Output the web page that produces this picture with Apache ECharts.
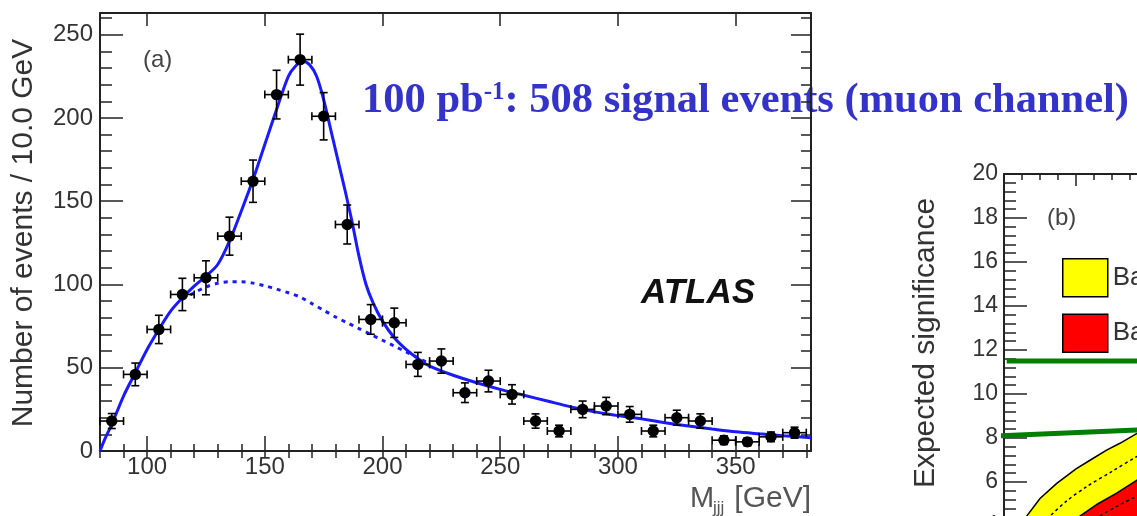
<!DOCTYPE html>
<html><head><meta charset="utf-8">
<script src="https://cdn.jsdelivr.net/npm/echarts@6/dist/echarts.min.js"></script>
<style>html,body{margin:0;padding:0;background:#fff}#c{width:1137px;height:516px}</style>
</head><body><div id="c"></div>
<script>
// ---------- panel (a): M_jjj distribution ----------
const binCenters = [85,95,105,115,125,135,145,155,165,175,185,195,205,215,225,235,245,255,265,275,285,295,305,315,325,335,345,355,365,375];
const eventCounts = [18,46,73,94,104,129,162,214,235,201,136,79,77,52,54,35,42,34,18,12,25,27,22,12,20,18,6.5,5.5,8.5,11];
const countErrors = [4.5,6.8,8.5,9.7,10.2,11.4,12.7,14.6,15.3,14.2,11.7,8.9,8.8,7.2,7.3,5.9,6.5,5.8,4.3,3.5,5.0,5.2,4.7,3.5,4.5,4.3,2.6,2.4,2.9,3.3];
const binWidth = 10;

const fitX = [80,82,85,90,95,100,105,110,115,120,125,130,135,140,145,150,155,160,163,166,169,172,175,178,181,184,187,190,193,196,200,205,210,215,220,230,240,250,260,270,280,290,300,310,320,330,340,350,360,370,382];
const fitY = [0,7,16,33,47,61,73,84,92,99,105,112,126,144,163,184,205,225,231,234,232,225,211,193,175,157,138,117,100,89,78,68,61,55.5,51,45.5,41,37,33.5,30,26.5,23.5,21.3,19.3,17,15,13.2,11.5,10.3,9.2,8];

const bkgX = [115,120,125,130,135,140,145,150,155,160,165,170,175,180,185,190,195,200,205,210,215,220];
const bkgY = [91,95,98.5,100.7,101.6,101.6,100.8,99.2,97.2,95,92.5,88.5,84.5,80.5,77,73.5,70,66.5,63,59.5,56,52.5];

const xMajorTicks = [100,150,200,250,300,350];
const xMinorTicks = [80,90,100,110,120,130,140,150,160,170,180,190,200,210,220,230,240,250,260,270,280,290,300,310,320,330,340,350,360,370,380];
const yMajorTicks = [0,50,100,150,200,250];
const yMinorTicks = [0,10,20,30,40,50,60,70,80,90,100,110,120,130,140,150,160,170,180,190,200,210,220,230,240,250,260];

// ---------- panel (b): expected significance (partly visible) ----------
const yellowUpper = [[0.3,3.0],[0.8,3.8],[1.26,4.45],[2.0,5.25],[2.93,5.94],[4.0,6.6],[4.96,7.08],[5.7,7.45],[6.44,7.76],[7.39,8.21],[8.5,8.7]];
const yellowMid = [[1.5,3.5],[2.56,4.45],[3.5,5.15],[4.59,5.79],[6.0,6.48],[7.37,7.15],[8.5,7.6]];
const redUpper = [[3.2,3.6],[4.22,4.45],[5.2,5.0],[6.26,5.49],[7.39,6.09],[8.5,6.6]];
const redMid = [[4.6,3.9],[5.33,4.45],[6.4,4.95],[7.39,5.36],[8.5,5.8]];
const redLower = [[5.5,3.0],[6.5,3.6],[7.39,4.3],[8.5,4.9]];
const greenUpper = [[0.15,11.5],[9,11.5]];
const greenLower = [[-0.61,8.09],[7.39,8.36],[9,8.41]];
const bandNames = ['Background \u00d7 1', 'Background \u00d7 2'];

const SANS = 'Liberation Sans';
const SERIF = 'Liberation Serif';
const AX = '#222';

function pairs(xs, ys){ return xs.map((x,i)=>[x, ys[i]]); }

function errorBarItem(params, api){
  const x = api.value(0), y = api.value(1), e = api.value(2);
  const c = api.coord([x, y]);
  const t = api.coord([x, y + e]);
  const b = api.coord([x, Math.max(0, y - e)]);
  const l = api.coord([x - binWidth/2, y]);
  const r = api.coord([x + binWidth/2, y]);
  const cap = 4;
  const st = {stroke:'#000', lineWidth:1.6};
  return {type:'group', children:[
    {type:'line', shape:{x1:c[0], y1:t[1], x2:c[0], y2:b[1]}, style:st},
    {type:'line', shape:{x1:l[0], y1:c[1], x2:r[0], y2:c[1]}, style:st},
    {type:'line', shape:{x1:c[0]-cap, y1:t[1], x2:c[0]+cap, y2:t[1]}, style:st},
    {type:'line', shape:{x1:c[0]-cap, y1:b[1], x2:c[0]+cap, y2:b[1]}, style:st},
    {type:'line', shape:{x1:l[0], y1:c[1]-cap, x2:l[0], y2:c[1]+cap}, style:st},
    {type:'line', shape:{x1:r[0], y1:c[1]-cap, x2:r[0], y2:c[1]+cap}, style:st},
    {type:'circle', shape:{cx:c[0], cy:c[1], r:5.7}, style:{fill:'#000'}}
  ]};
}

function bandRenderer(upper, lower){
  return function(params, api){
    const pts = upper.map(p=>api.coord(p)).concat(lower.slice().reverse().map(p=>api.coord(p)));
    return {type:'polygon', shape:{points:pts}, style:{fill:api.visual('color'), stroke:'#000', lineWidth:1.5}};
  };
}

function tickAxis(extra){
  return Object.assign({
    type:'value', gridIndex:0, splitLine:{show:false},
    axisLine:{show:false}, axisLabel:{show:false}
  }, extra);
}

const xBase = {min:80, max:382};
const yBase = {min:0, max:263};

const option = {
  backgroundColor:'#fff',
  animation:false,
  grid:[
    {left:100, top:13, width:711, height:438, outerBoundsMode:'none', containLabel:false},
    {left:1004, top:174, width:360, height:440, outerBoundsMode:'none', containLabel:false}
  ],
  xAxis:[
    tickAxis(Object.assign({position:'bottom',
      axisLine:{show:true, onZero:false, lineStyle:{color:AX, width:2}},
      axisTick:{inside:true, length:15, customValues:xMajorTicks, lineStyle:{color:AX, width:1.5}},
      axisLabel:{show:true, customValues:xMajorTicks, margin:4, fontSize:24, fontFamily:SANS, color:'#333'}}, xBase)),
    tickAxis(Object.assign({position:'bottom',
      axisTick:{inside:true, length:7, customValues:xMinorTicks, lineStyle:{color:AX, width:1.5}}}, xBase)),
    tickAxis(Object.assign({position:'top',
      axisLine:{show:true, onZero:false, lineStyle:{color:AX, width:2}},
      axisTick:{inside:true, length:13, customValues:xMajorTicks, lineStyle:{color:AX, width:1.5}}}, xBase)),
    tickAxis(Object.assign({position:'top',
      axisTick:{inside:true, length:7, customValues:xMinorTicks, lineStyle:{color:AX, width:1.5}}}, xBase)),
    {type:'value', gridIndex:1, position:'top', min:0, max:20, interval:4,
      splitLine:{show:false}, axisLabel:{show:false},
      axisLine:{show:true, onZero:false, lineStyle:{color:AX, width:2}},
      axisTick:{inside:true, length:12, lineStyle:{color:AX, width:1.5}},
      minorTick:{show:true, splitNumber:4, length:6, lineStyle:{color:AX, width:1.5}}}
  ],
  yAxis:[
    tickAxis(Object.assign({position:'left',
      axisLine:{show:true, onZero:false, lineStyle:{color:AX, width:2}},
      axisTick:{inside:true, length:23, customValues:yMajorTicks, lineStyle:{color:AX, width:1.5}},
      axisLabel:{show:true, customValues:yMajorTicks, margin:7, fontSize:24, fontFamily:SANS, color:'#333'}}, yBase)),
    tickAxis(Object.assign({position:'left',
      axisTick:{inside:true, length:12, customValues:yMinorTicks, lineStyle:{color:AX, width:1.5}}}, yBase)),
    tickAxis(Object.assign({position:'right',
      axisLine:{show:true, onZero:false, lineStyle:{color:AX, width:2}},
      axisTick:{inside:true, length:20, customValues:yMajorTicks, lineStyle:{color:AX, width:1.5}}}, yBase)),
    tickAxis(Object.assign({position:'right',
      axisTick:{inside:true, length:10, customValues:yMinorTicks, lineStyle:{color:AX, width:1.5}}}, yBase)),
    {type:'value', gridIndex:1, position:'left', min:0, max:20, interval:2,
      splitLine:{show:false},
      axisLine:{show:true, onZero:false, lineStyle:{color:AX, width:2}},
      axisTick:{inside:true, length:23, lineStyle:{color:AX, width:1.5}},
      minorTick:{show:true, splitNumber:5, length:12, lineStyle:{color:AX, width:1.5}},
      axisLabel:{margin:6, fontSize:23, fontFamily:SANS, color:'#333'}}
  ],
  legend:{
    orient:'vertical', left:1057, top:253, itemWidth:45, itemHeight:38, itemGap:16,
    icon:'rect', itemStyle:{borderColor:'#000', borderWidth:1.5},
    textStyle:{fontSize:26, fontFamily:SANS, color:'#333'},
    data:[
      {name:bandNames[0], itemStyle:{color:'#ffff00', borderColor:'#000', borderWidth:1.5}},
      {name:bandNames[1], itemStyle:{color:'#ff0000', borderColor:'#000', borderWidth:1.5}}
    ],
    selectedMode:false
  },
  series:[
    {type:'line', name:'background', xAxisIndex:0, yAxisIndex:0, data:pairs(bkgX,bkgY), smooth:0.3,
      symbol:'none', lineStyle:{color:'#1a1aff', width:3, type:[4,5]}, z:2},
    {type:'line', name:'fit', xAxisIndex:0, yAxisIndex:0, data:pairs(fitX,fitY), smooth:0.3,
      symbol:'none', lineStyle:{color:'#1a1aff', width:3}, z:3},
    {type:'custom', name:'data', xAxisIndex:0, yAxisIndex:0,
      data:binCenters.map((x,i)=>[x, eventCounts[i], countErrors[i]]),
      encode:{x:0, y:1}, renderItem:errorBarItem, z:4},
    {type:'custom', name:bandNames[0], xAxisIndex:4, yAxisIndex:4, data:[[0,0]],
      itemStyle:{color:'#ffff00'}, renderItem:bandRenderer(yellowUpper, redLower), z:2},
    {type:'custom', name:bandNames[1], xAxisIndex:4, yAxisIndex:4, data:[[0,0]],
      itemStyle:{color:'#ff0000'}, renderItem:bandRenderer(redUpper, redLower), z:3},
    {type:'line', xAxisIndex:4, yAxisIndex:4, data:yellowMid, smooth:0.3, symbol:'none',
      lineStyle:{color:'#000', width:1.5, type:[3,3]}, z:4},
    {type:'line', xAxisIndex:4, yAxisIndex:4, data:redMid, smooth:0.3, symbol:'none',
      lineStyle:{color:'#000', width:1.5, type:[3,3]}, z:4},
    {type:'line', xAxisIndex:4, yAxisIndex:4, data:greenUpper, symbol:'none', clip:false,
      lineStyle:{color:'#007f00', width:5}, z:5},
    {type:'line', xAxisIndex:4, yAxisIndex:4, data:greenLower, symbol:'none', clip:false,
      lineStyle:{color:'#007f00', width:5}, z:5}
  ],
  graphic:[
    {type:'text', x:24, y:233, rotation:Math.PI/2,
      style:{text:'Number of events / 10.0 GeV', fontSize:30, fontFamily:SANS, fill:'#333', align:'center', verticalAlign:'middle'}},
    {type:'text', x:926, y:343, rotation:Math.PI/2,
      style:{text:'Expected significance', fontSize:30, fontFamily:SANS, fill:'#333', align:'center', verticalAlign:'middle'}},
    {type:'text', x:143, y:60,
      style:{text:'(a)', fontSize:24, fontFamily:SANS, fill:'#444', align:'left', verticalAlign:'middle'}},
    {type:'text', x:1047, y:218,
      style:{text:'(b)', fontSize:24, fontFamily:SANS, fill:'#444', align:'left', verticalAlign:'middle'}},
    {type:'text', x:641, y:293,
      style:{text:'ATLAS', fontSize:35, fontStyle:'italic', fontWeight:'bold', fontFamily:SANS, fill:'#111', align:'left', verticalAlign:'middle'}},
    {type:'text', x:690, y:499,
      style:{text:'M', fontSize:29, fontFamily:SANS, fill:'#555', align:'left', verticalAlign:'middle'}},
    {type:'text', x:713, y:508,
      style:{text:'jjj', fontSize:17, fontFamily:SANS, fill:'#555', align:'left', verticalAlign:'middle'}},
    {type:'text', x:811, y:499,
      style:{text:'[GeV]', fontSize:30, fontFamily:SANS, fill:'#555', align:'right', verticalAlign:'middle'}},
    {type:'text', x:362, y:102,
      style:{text:'{a|100 pb}{s|-1}{a|: 508 signal events (muon channel)}', align:'left', verticalAlign:'middle',
        rich:{
          a:{fontSize:42.5, fontFamily:SERIF, fontWeight:'bold', fill:'#3333cc', lineHeight:44, verticalAlign:'top'},
          s:{fontSize:25, fontFamily:SERIF, fontWeight:'bold', fill:'#3333cc', lineHeight:30, verticalAlign:'top'}
        }}}
  ]
};

const chart = echarts.init(document.getElementById('c'), null, {renderer:'canvas'});
chart.setOption(option);
</script></body></html>
